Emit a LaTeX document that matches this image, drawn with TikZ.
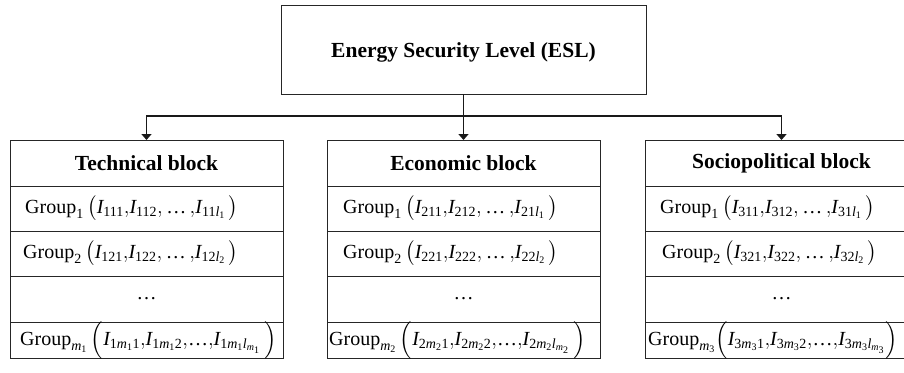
\documentclass[tikz,border=0pt]{standalone}
\usepackage{amsmath}
\usepackage{fontspec}
\setmainfont{Liberation Serif}
\usetikzlibrary{arrows.meta}
\newcommand{\vI}{\text{\itshape I}}
\newcommand{\vm}{\text{\itshape m}}
\newcommand{\vl}{\text{\itshape l}}
\newcommand{\tn}[1]{\text{#1}}
\newcommand{\gp}{\text{Group}}
\newcommand{\cdts}{{,}\,\text{…}\,{,}}
\newcommand{\cdtt}{{,}\text{…}{,}}
\newcommand{\blockboxes}[3]{% #1 prefix, #2 left x, #3 header text
  \node[box, minimum height=46pt, hdr] (#1h) at (#2,140) {#3};
  \node[box, minimum height=45pt] (#1a) at (#2,186) {};
  \node[box, minimum height=45pt] (#1b) at (#2,231) {};
  \node[box, minimum height=46pt] (#1c) at (#2,276) {};
  \node[box, minimum height=36pt] (#1d) at (#2,322) {};
  \node[lbl, anchor=center] (#1dots) at (#1c.center) {…};
}
\begin{document}
\begin{tikzpicture}[x=1pt,y=-1pt,
  box/.style={draw=black!85, line width=0.9pt, inner sep=0pt, outer sep=0pt,
    minimum width=273pt, anchor=north west},
  lbl/.style={inner sep=0pt, anchor=west, font=\fontsize{20}{24}\selectfont},
  hdr/.style={font=\fontsize{21.5}{26}\selectfont\bfseries},
  conn/.style={draw=black!90, line width=1.5pt, -{Triangle[length=6pt,width=10pt]}}]
\useasboundingbox (0,0) rectangle (904,372);
\clip (0,0) rectangle (904,372);
\node[box, minimum width=365pt, minimum height=89pt] (esl) at (281,5) {};
\node[hdr, inner sep=0pt] (esltxt) at ([yshift=-3pt]esl.center) {Energy Security Level (ESL)};
\coordinate (hub) at (463.5,116);

\blockboxes{t}{10}{\raisebox{-1pt}{Technical block}}
\blockboxes{e}{327}{\raisebox{-1pt}{Economic block}}
\blockboxes{s}{645}{\raisebox{-1pt}{Sociopolitical block}}

% Technical
\node[lbl] (ta1) at ([xshift=15pt]ta.west) {$\gp_{\tn{1}}\,\bigl(\vI_{\tn{111}}{,}\vI_{\tn{112}}\cdts\vI_{\tn{11}\vl_{\tn{1}}}\,\bigr)$};
\node[lbl] (tb1) at ([xshift=13pt]tb.west) {$\gp_{\tn{2}}\,\bigl(\vI_{\tn{121}}{,}\vI_{\tn{122}}\cdts\vI_{\tn{12}\vl_{\tn{2}}}\,\bigr)$};
\node[lbl] (td1) at ([xshift=10pt]td.west) {$\gp_{\vm_{\tn{1}}}\,\Bigl(\vI_{\tn{1}\vm_{\tn{1}}\tn{1}}{,}\vI_{\tn{1}\vm_{\tn{1}}\tn{2}}\cdtt\vI_{\tn{1}\vm_{\tn{1}}\vl_{\vm_{\tn{1}}}}\,\Bigr)$};
% Economic
\node[lbl] (ea1) at ([xshift=16pt]ea.west) {$\gp_{\tn{1}}\,\bigl(\vI_{\tn{211}}{,}\vI_{\tn{212}}\cdts\vI_{\tn{21}\vl_{\tn{1}}}\,\bigr)$};
\node[lbl] (eb1) at ([xshift=16pt]eb.west) {$\gp_{\tn{2}}\,\bigl(\vI_{\tn{221}}{,}\vI_{\tn{222}}\cdts\vI_{\tn{22}\vl_{\tn{2}}}\,\bigr)$};
\node[lbl] (ed1) at ([xshift=2pt]ed.west) {$\gp_{\vm_{\tn{2}}}\,\Bigl(\vI_{\tn{2}\vm_{\tn{2}}\tn{1}}{,}\vI_{\tn{2}\vm_{\tn{2}}\tn{2}}\cdtt\vI_{\tn{2}\vm_{\tn{2}}\vl_{\vm_{\tn{2}}}}\,\Bigr)$};
% Sociopolitical
\node[lbl] (sa1) at ([xshift=15pt]sa.west) {$\gp_{\tn{1}}\,\bigl(\vI_{\tn{311}}{,}\vI_{\tn{312}}\cdts\vI_{\tn{31}\vl_{\tn{1}}}\,\bigr)$};
\node[lbl] (sb1) at ([xshift=17pt]sb.west) {$\gp_{\tn{2}}\,\bigl(\vI_{\tn{321}}{,}\vI_{\tn{322}}\cdts\vI_{\tn{32}\vl_{\tn{2}}}\,\bigr)$};
\node[lbl] (sd1) at ([xshift=3pt]sd.west) {$\gp_{\vm_{\tn{3}}}\Bigl(\vI_{\tn{3}\vm_{\tn{3}}\tn{1}}{,}\vI_{\tn{3}\vm_{\tn{3}}\tn{2}}\cdtt\vI_{\tn{3}\vm_{\tn{3}}\vl_{\vm_{\tn{3}}}}\Bigr)$};

\draw[conn] (esl.south) -- (eh.north);
\draw[conn] (hub) -| (th.north);
\draw[conn] (hub) -| (sh.north);
\end{tikzpicture}
\end{document}
